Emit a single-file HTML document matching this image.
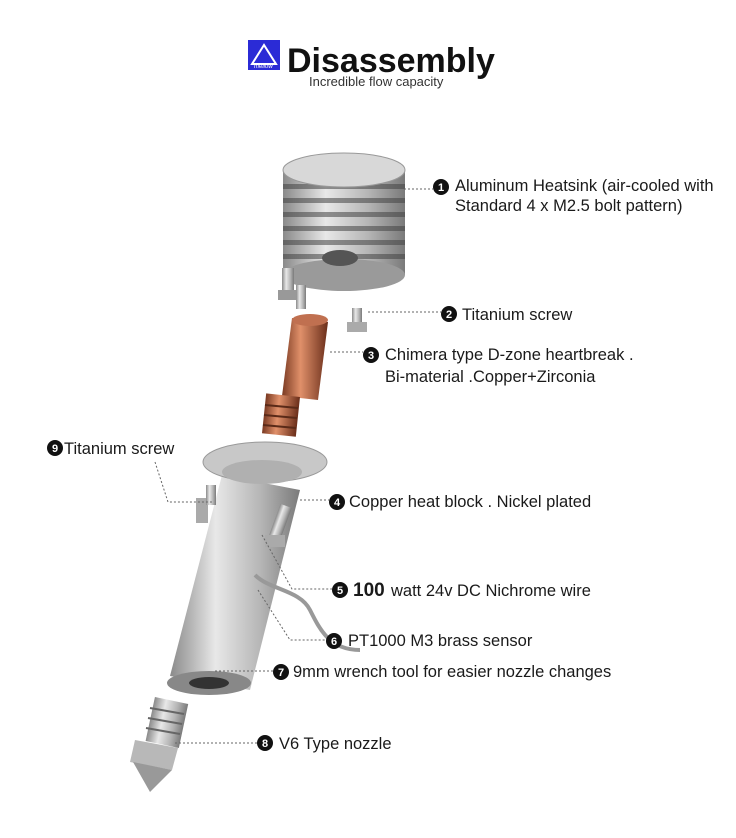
<!DOCTYPE html>
<html><head><meta charset="utf-8"><style>
html,body{margin:0;padding:0;background:#fff}
svg{display:block}
text{font-family:"Liberation Sans",Arial,sans-serif;fill:#1a1a1a}
.n{fill:#fff;font-weight:bold;font-size:11px;text-anchor:middle}
.l{font-size:16.5px}
.d{stroke:#666;stroke-width:1;stroke-dasharray:2 2;fill:none}
</style></head><body>
<svg width="736" height="838" viewBox="0 0 736 838" xmlns="http://www.w3.org/2000/svg">
<defs>
<linearGradient id="al" x1="0" x2="1"><stop offset="0" stop-color="#8a8a8a"/><stop offset=".35" stop-color="#e8e8e8"/><stop offset=".7" stop-color="#b5b5b5"/><stop offset="1" stop-color="#7a7a7a"/></linearGradient>
<linearGradient id="cu" x1="0" x2="1"><stop offset="0" stop-color="#7a3a22"/><stop offset=".4" stop-color="#e0906a"/><stop offset="1" stop-color="#6a2e1a"/></linearGradient>
</defs>
<!-- header -->
<rect x="248" y="40" width="32" height="30" fill="#2b2bd6"/>
<path d="M252 64 L264 45 L276 64 Z" fill="none" stroke="#fff" stroke-width="2"/>
<text x="254" y="68" style="font-size:6px;fill:#fff;font-style:italic">mellow</text>
<text x="287" y="72" style="font-size:34px;font-weight:bold;fill:#111">Disassembly</text>
<text x="309" y="86" style="font-size:13px;fill:#333">Incredible flow capacity</text>

<!-- heatsink -->
<rect x="283" y="170" width="122" height="105" fill="url(#al)"/>
<g fill="#444" opacity=".55">
<rect x="283" y="184" width="122" height="5"/><rect x="283" y="198" width="122" height="5"/><rect x="283" y="212" width="122" height="5"/><rect x="283" y="226" width="122" height="5"/><rect x="283" y="240" width="122" height="5"/><rect x="283" y="254" width="122" height="5"/>
</g>
<ellipse cx="344" cy="275" rx="61" ry="16" fill="#9a9a9a"/>
<ellipse cx="344" cy="170" rx="61" ry="17" fill="#d8d8d8" stroke="#999"/>
<ellipse cx="340" cy="258" rx="18" ry="8" fill="#555"/>
<!-- screws -->
<rect x="282" y="268" width="12" height="30" fill="url(#al)"/><rect x="278" y="290" width="20" height="10" fill="#999"/>
<rect x="296" y="285" width="10" height="24" fill="url(#al)"/>
<rect x="352" y="308" width="10" height="20" fill="url(#al)"/><rect x="347" y="322" width="20" height="10" fill="#aaa"/>
<!-- copper heatbreak -->
<path d="M292 318 L328 322 L318 400 L282 396 Z" fill="url(#cu)"/>
<ellipse cx="310" cy="320" rx="18" ry="6" fill="#c07050"/>
<rect x="264" y="395" width="34" height="40" fill="url(#cu)" transform="rotate(6 280 415)"/>
<g stroke="#5a2a18" stroke-width="2"><line x1="265" y1="405" x2="298" y2="408"/><line x1="264" y1="415" x2="297" y2="418"/><line x1="263" y1="425" x2="296" y2="428"/></g>
<!-- heat block -->
<path d="M222 475 L300 490 L250 690 L170 676 Z" fill="url(#al)"/>
<ellipse cx="209" cy="683" rx="42" ry="12" fill="#888"/>
<ellipse cx="209" cy="683" rx="20" ry="6" fill="#333"/>
<ellipse cx="265" cy="462" rx="62" ry="20" fill="#c8c8c8" stroke="#999"/>
<ellipse cx="262" cy="472" rx="40" ry="12" fill="#b0b0b0"/>
<rect x="196" y="498" width="12" height="25" fill="#aaa"/><rect x="206" y="485" width="10" height="20" fill="url(#al)"/>
<rect x="275" y="505" width="12" height="35" fill="url(#al)" transform="rotate(20 281 520)"/><rect x="265" y="535" width="20" height="12" fill="#aaa"/>
<path d="M255 575 C270 590,300 590,310 610 C320 630,330 650,360 650" stroke="#999" stroke-width="4" fill="none"/>
<!-- nozzle -->
<rect x="150" y="700" width="34" height="45" fill="url(#al)" transform="rotate(12 167 722)"/>
<g stroke="#666" stroke-width="2"><line x1="150" y1="708" x2="184" y2="714"/><line x1="148" y1="718" x2="182" y2="724"/><line x1="146" y1="728" x2="180" y2="734"/></g>
<path d="M135 740 L178 748 L172 770 L130 762 Z" fill="#b8b8b8"/>
<path d="M133 762 L172 770 L150 792 Z" fill="#999"/>

<!-- leaders -->
<path class="d" d="M404 189 H433"/>
<path class="d" d="M368 312 H441"/>
<path class="d" d="M330 352 H363"/>
<path class="d" d="M155 462 L168 502 H212"/>
<path class="d" d="M300 500 H329"/>
<path class="d" d="M262 535 L292 589 H332"/>
<path class="d" d="M258 590 L290 640 H326"/>
<path class="d" d="M215 671 H273"/>
<path class="d" d="M175 743 H257"/>

<!-- labels -->
<circle cx="441" cy="187" r="8" fill="#111"/><text class="n" x="441" y="191">1</text>
<text class="l" x="455" y="191">Aluminum Heatsink (air-cooled with</text>
<text class="l" x="455" y="211">Standard 4 x M2.5 bolt pattern)</text>
<circle cx="449" cy="314" r="8" fill="#111"/><text class="n" x="449" y="318">2</text>
<text class="l" x="462" y="320">Titanium screw</text>
<circle cx="371" cy="355" r="8" fill="#111"/><text class="n" x="371" y="359">3</text>
<text class="l" x="385" y="360">Chimera type D-zone heartbreak .</text>
<text class="l" x="385" y="382">Bi-material .Copper+Zirconia</text>
<circle cx="55" cy="448" r="8" fill="#111"/><text class="n" x="55" y="452">9</text>
<text class="l" x="64" y="454">Titanium screw</text>
<circle cx="337" cy="502" r="8" fill="#111"/><text class="n" x="337" y="506">4</text>
<text class="l" x="349" y="507">Copper heat block . Nickel plated</text>
<circle cx="340" cy="590" r="8" fill="#111"/><text class="n" x="340" y="594">5</text>
<text x="353" y="596" style="font-size:19px;font-weight:bold">100</text>
<text class="l" x="391" y="596">watt 24v DC Nichrome wire</text>
<circle cx="334" cy="641" r="8" fill="#111"/><text class="n" x="334" y="645">6</text>
<text class="l" x="348" y="646">PT1000 M3 brass sensor</text>
<circle cx="281" cy="672" r="8" fill="#111"/><text class="n" x="281" y="676">7</text>
<text class="l" x="293" y="677">9mm wrench tool for easier nozzle changes</text>
<circle cx="265" cy="743" r="8" fill="#111"/><text class="n" x="265" y="747">8</text>
<text class="l" x="279" y="749">V6 Type nozzle</text>
</svg>
</body></html>
